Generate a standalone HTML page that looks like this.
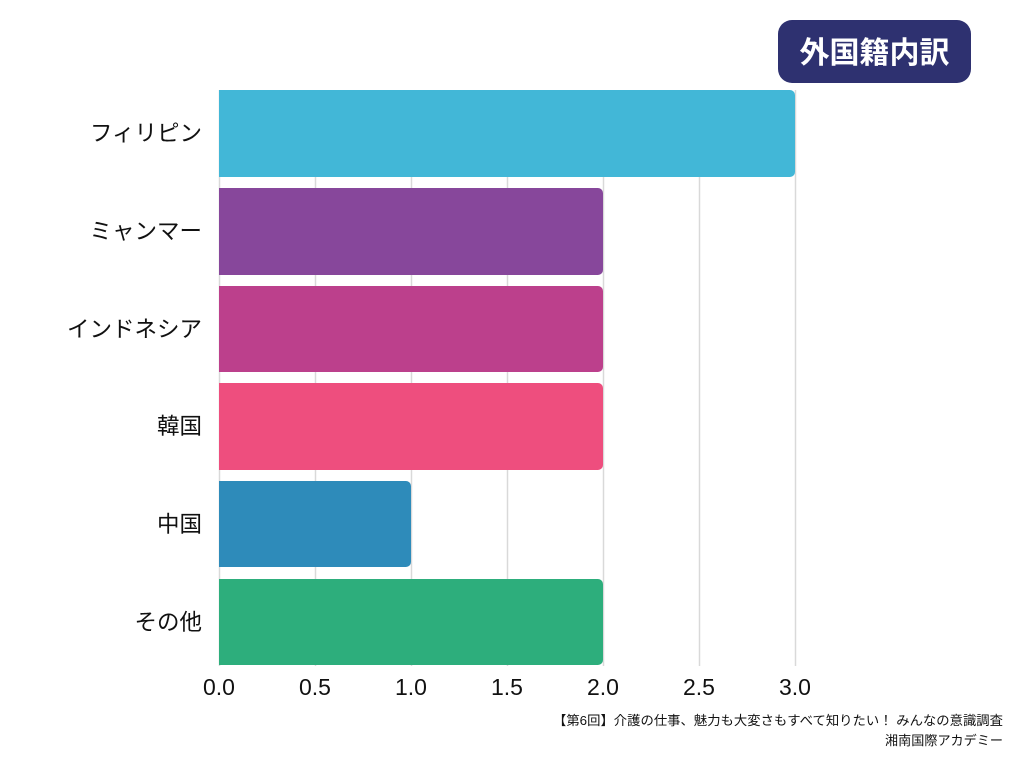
<!DOCTYPE html>
<html><head><meta charset="utf-8"><style>
html,body{margin:0;padding:0;background:#fff;}
svg{display:block;font-family:"Liberation Sans","Noto Sans CJK JP",sans-serif;}
</style></head><body>
<svg width="1024" height="768" viewBox="0 0 1024 768" xmlns="http://www.w3.org/2000/svg">
<rect width="1024" height="768" fill="#fff"/>
<g stroke="#d9d9d9" stroke-width="1.5">
<line x1="219.5" y1="90" x2="219.5" y2="666"/>
<line x1="315.5" y1="90" x2="315.5" y2="666"/>
<line x1="411.5" y1="90" x2="411.5" y2="666"/>
<line x1="507.5" y1="90" x2="507.5" y2="666"/>
<line x1="603.5" y1="90" x2="603.5" y2="666"/>
<line x1="699.5" y1="90" x2="699.5" y2="666"/>
<line x1="795.5" y1="90" x2="795.5" y2="666"/>
</g>
<path d="M219 90 H790 a5 5 0 0 1 5 5 V172 a5 5 0 0 1 -5 5 H219 Z" fill="#42b7d7"/>
<path d="M219 188 H598 a5 5 0 0 1 5 5 V270 a5 5 0 0 1 -5 5 H219 Z" fill="#87479b"/>
<path d="M219 286 H598 a5 5 0 0 1 5 5 V367 a5 5 0 0 1 -5 5 H219 Z" fill="#bc408c"/>
<path d="M219 383 H598 a5 5 0 0 1 5 5 V465 a5 5 0 0 1 -5 5 H219 Z" fill="#ee4e7e"/>
<path d="M219 481 H406 a5 5 0 0 1 5 5 V562 a5 5 0 0 1 -5 5 H219 Z" fill="#2e8bba"/>
<path d="M219 579 H598 a5 5 0 0 1 5 5 V660 a5 5 0 0 1 -5 5 H219 Z" fill="#2dae7c"/>
<g font-size="22.5" fill="#111" text-anchor="end">
<text x="202" y="141">フィリピン</text>
<text x="202" y="239">ミャンマー</text>
<text x="202" y="337">インドネシア</text>
<text x="202" y="434">韓国</text>
<text x="202" y="532">中国</text>
<text x="202" y="630">その他</text>
</g>
<g font-size="23" fill="#111" text-anchor="middle">
<text x="219" y="695">0.0</text>
<text x="315" y="695">0.5</text>
<text x="411" y="695">1.0</text>
<text x="507" y="695">1.5</text>
<text x="603" y="695">2.0</text>
<text x="699" y="695">2.5</text>
<text x="795" y="695">3.0</text>
</g>
<rect x="778" y="20" width="193" height="63" rx="14" fill="#2e3170"/>
<text x="874.5" y="63" font-size="30" font-weight="bold" fill="#fff" text-anchor="middle">外国籍内訳</text>
<g font-size="13" fill="#111">
<text x="553" y="725" textLength="450" lengthAdjust="spacingAndGlyphs">【第6回】介護の仕事、魅力も大変さもすべて知りたい！ みんなの意識調査</text>
<text x="885" y="745" textLength="118" lengthAdjust="spacingAndGlyphs">湘南国際アカデミー</text>
</g>
</svg>
</body></html>
